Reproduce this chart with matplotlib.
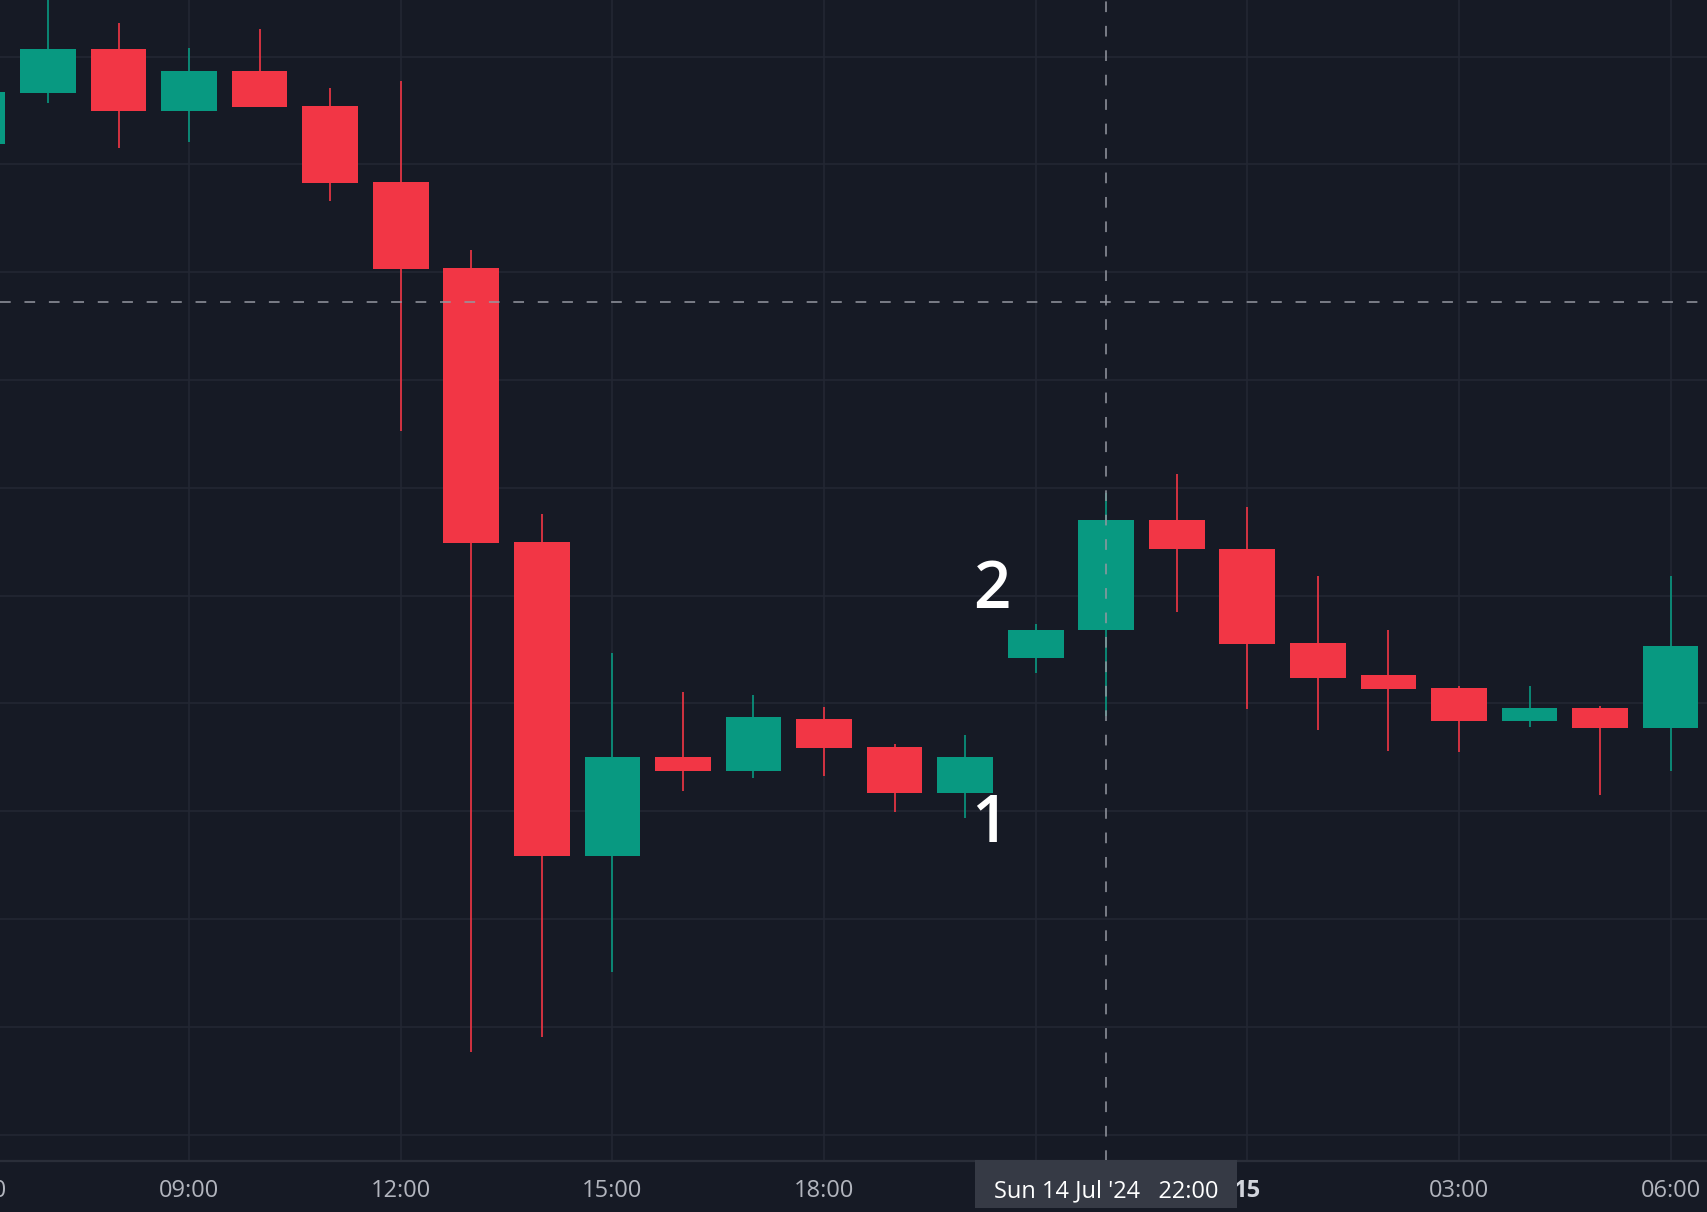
import numpy as np
import matplotlib.pyplot as plt
from matplotlib.patches import Rectangle
from matplotlib.transforms import blended_transform_factory

plt.rcParams['font.family'] = ['Open Sans', 'DejaVu Sans']

# hourly candles, 14 Jul 06:00 -> 15 Jul 06:00 (price axis is hidden, units are relative)
hours = ['06:00', '07:00', '08:00', '09:00', '10:00', '11:00', '12:00', '13:00',
         '14:00', '15:00', '16:00', '17:00', '18:00', '19:00', '20:00', '21:00',
         '22:00', '23:00', '00:00', '01:00', '02:00', '03:00', '04:00', '05:00', '06:00']
opens = [91.9, 96.6, 100.7, 95.0, 98.7, 95.4, 88.4, 80.4, 55.0, 25.8, 35.0, 33.7, 38.6,
         36.0, 31.7, 44.2, 46.8, 57.0, 54.3, 45.6, 42.6, 41.4, 38.4, 39.6, 37.7]
highs = [98.8, 106.2, 103.1, 100.8, 102.6, 97.1, 97.7, 82.1, 57.6, 44.7, 41.1, 40.8, 39.7,
         36.2, 37.1, 47.4, 59.5, 61.3, 58.2, 51.8, 46.8, 41.6, 41.6, 39.8, 51.8]
lows = [91.3, 95.7, 91.5, 92.1, 95.3, 86.6, 65.3, 7.7, 9.1, 15.1, 31.9, 33.1, 33.3,
        29.9, 29.4, 42.8, 38.8, 48.5, 39.5, 37.5, 35.6, 35.5, 37.8, 31.5, 33.7]
closes = [96.7, 100.7, 95.0, 98.7, 95.3, 88.3, 80.3, 54.9, 25.8, 35.0, 33.7, 38.7, 35.9,
          31.7, 35.0, 46.8, 57.0, 54.3, 45.5, 42.4, 41.3, 38.4, 39.6, 37.7, 45.3]

# 21:00 sits under the crosshair time label, so it shows no text
tick_pos = [3, 6, 9, 12, 15, 18, 21, 24]
tick_labels = ['09:00', '12:00', '15:00', '18:00', '', '15', '03:00', '06:00']

cross_x = 16
cross_price = 77.2
cross_label = "Sun 14 Jul '24   22:00"

marks = ['1', '2']
mark_x = [14.35, 14.38]
mark_y = [27.1, 48.9]

BG = '#161a25'
UP = '#089981'
DOWN = '#f23645'
TXT = '#b2b5be'

fig = plt.figure(figsize=(17.08, 12.12), dpi=100, facecolor=BG)
ax = fig.add_axes([0, 51 / 1212, 1, 1161 / 1212])
ax.set_facecolor(BG)

x = np.arange(len(hours))
o = np.array(opens)
c = np.array(closes)
cols = [UP if cc >= oo else DOWN for oo, cc in zip(o, c)]

ax.vlines(x, lows, highs, colors=cols, lw=1.2, zorder=2)
ax.bar(x, np.abs(c - o), bottom=np.minimum(o, c), width=0.79, color=cols,
       linewidth=0, zorder=3)

# crosshair
ax.axvline(cross_x, color='#9598a1', lw=1.1, dashes=(7, 9), zorder=4)
ax.axhline(cross_price, color='#9598a1', lw=1.1, dashes=(7, 9), zorder=4)

for s, mx, my in zip(marks, mark_x, mark_y):
    ax.text(mx, my, s, fontsize=47, color='white', fontweight='semibold',
            ha='center', va='baseline', zorder=5)

ax.set_xticks(tick_pos, tick_labels)
ax.set_yticks(np.arange(0, 101, 10))
ax.tick_params(axis='x', length=0, pad=13, colors=TXT, labelsize=17)
ax.tick_params(axis='y', length=0, labelleft=False)
for lbl in ax.get_xticklabels():
    if lbl.get_text() == '15':
        lbl.set_fontweight('bold')
        lbl.set_color('#d1d4dc')
ax.grid(color='#232733', lw=1.2)
ax.set_axisbelow(True)

for side in ['top', 'left', 'right']:
    ax.spines[side].set_visible(False)
ax.spines['bottom'].set_color('#2a2e39')
ax.spines['bottom'].set_linewidth(1.6)

# cut-off first time label on the left edge
ax.annotate('06:00', xy=(0, 0), xycoords=('data', 'axes fraction'), xytext=(0, -13),
            textcoords='offset points', ha='center', va='top', color=TXT, fontsize=17,
            annotation_clip=False)

# crosshair time label
trans = blended_transform_factory(ax.transData, fig.transFigure)
box = Rectangle((cross_x - 1.857, 4 / 1212), 3.714, 48 / 1212, transform=trans,
                facecolor='#363a45', edgecolor='none', clip_on=False, zorder=5)
ax.add_patch(box)
ax.annotate(cross_label, xy=(cross_x, 0), xycoords=('data', 'axes fraction'),
            xytext=(0, -13), textcoords='offset points', ha='center', va='top',
            color='white', fontsize=17, zorder=6, annotation_clip=False)

ax.set_xlim(0.32, 24.53)
ax.set_ylim(-2.45, 105.26)

fig.savefig('out.png', dpi=100, facecolor=BG)
